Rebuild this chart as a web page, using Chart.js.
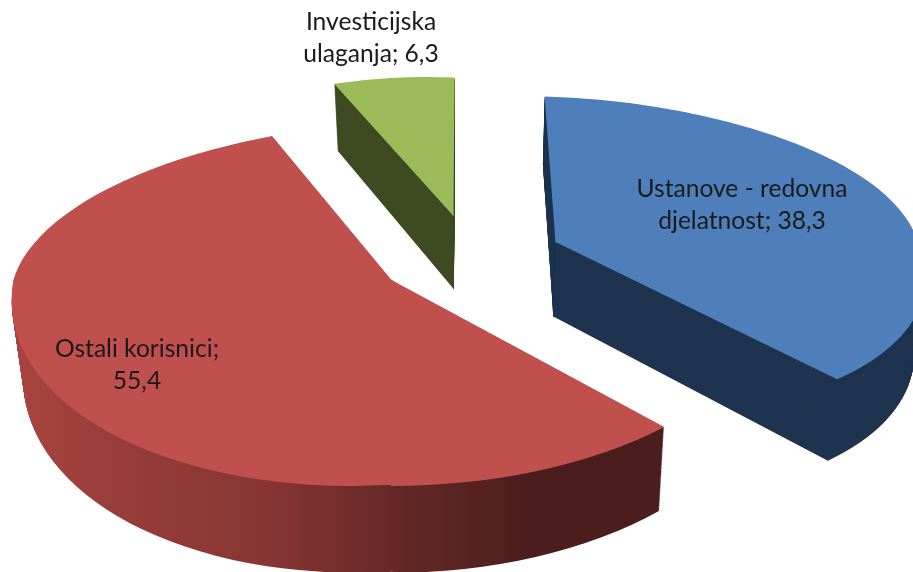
<!DOCTYPE html>
<html><head><meta charset="utf-8">
<style>html,body{margin:0;padding:0;background:#fff}canvas{display:block}</style>
<script src="https://cdn.jsdelivr.net/npm/chart.js@4"></script>
</head><body><canvas id="c" width="913" height="572"></canvas>
<script>
const categories = ['Ustanove - redovna djelatnost', 'Ostali korisnici', 'Investicijska ulaganja'];
const shares = [38.3, 55.4, 6.3];
const topColors = ['#4f7fba', '#bf504d', '#9bbb59'];
const wallColors = ['#1f344f', null, '#3f4c23'];
const redWallStops = [[13,'#a8443f'],[130,'#963c39'],[270,'#873533'],[400,'#642826'],[530,'#4b1d1c'],[663,'#4b1d1c']];

/* 3-D look: how each slice is exploded and flattened (quadrants: rx, ry, shear) */
const views = [
  {ex: 86, ey: -18, turn: 0, seam: 0,
   ul: [300,146,40], ur: [362,146,40], ll: [300,173,77], lr: [362,173,77]},
  {ex: -78, ey: 20, turn: -7, seam: 0.13,
   ul: [378,159,-45], ur: [378,159,-45], ll: [378,206,-38], lr: [389,206,0]},
  {ex: -16, ey: -44, turn: 0, seam: 0,
   ul: [299,139,28], ur: [360,139,28], ll: [299,139,28], lr: [360,139,28]}
];
const labelSpots = [
  {x: 742, y: 197, wrap: 240},
  {x: 137, y: 357, wrap: 200},
  {x: 371, y: 30, wrap: 165}
];
const labelFont = '24.6px Lato';
const labelLead = 32;
const drawOrder = [2, 0, 1];
const wallSteps = 90;

function drawSlice(ctx, arc, v, idx, t, isWall) {
  const R = arc.outerRadius;
  const big = R * 1.3, ov = 0.6;
  const seam = v.seam * R;
  const quads = [
    ['ul', -big, -big, big + ov, big + ov],
    ['ur', -ov, -big, big + ov, big + ov],
    ['ll', -big, -ov, big + ov + seam, big + ov],
    ['lr', -ov, -ov, big + ov, big + ov]
  ];
  quads.forEach(q => {
    const [rx, ry, sh] = v[q[0]];
    ctx.save();
    if (t > 0) {
      ctx.transform(1 - 0.025 * t, 0, 0, 1 + 0.05 * t, 470 * 0.025 * t, 62.5 * t);
    }
    ctx.transform(rx / R, 0, sh / R, ry / R, arc.x + v.ex, arc.y + v.ey);
    ctx.beginPath();
    ctx.rect(q[1], q[2], q[3], q[4]);
    ctx.clip();
    ctx.rotate(v.turn * Math.PI / 180);
    ctx.translate(-arc.x, -arc.y);
    let fill = topColors[idx];
    if (isWall) {
      fill = wallColors[idx];
      if (!fill) {
        const M = ctx.getTransform();
        const n = M.a * M.a + M.c * M.c;
        const x0 = redWallStops[0][0], x1 = redWallStops[redWallStops.length - 1][0];
        const g = ctx.createLinearGradient(
          (x0 - M.e) * M.a / n, (x0 - M.e) * M.c / n,
          (x1 - M.e) * M.a / n, (x1 - M.e) * M.c / n);
        redWallStops.forEach(s => g.addColorStop((s[0] - x0) / (x1 - x0), s[1]));
        fill = g;
      }
    }
    const saved = arc.options;
    arc.options = Object.assign({}, saved, {backgroundColor: fill, borderWidth: 0});
    arc.draw(ctx);
    arc.options = saved;
    ctx.restore();
  });
}

function wrapLabel(ctx, text, width) {
  const lines = [];
  let cur = '';
  text.split(' ').forEach(w => {
    const tryLine = cur ? cur + ' ' + w : w;
    if (cur && ctx.measureText(tryLine).width > width) { lines.push(cur); cur = w; }
    else cur = tryLine;
  });
  lines.push(cur);
  return lines;
}

const pie3d = {
  id: 'pie3d',
  beforeDatasetsDraw(chart) {
    const ctx = chart.ctx;
    const arcs = chart.getDatasetMeta(0).data;
    drawOrder.forEach(i => {
      for (let s = wallSteps; s >= 1; s--) drawSlice(ctx, arcs[i], views[i], i, s / wallSteps, true);
      drawSlice(ctx, arcs[i], views[i], i, 0, false);
    });
    return false;
  },
  afterDraw(chart) {
    const ctx = chart.ctx;
    ctx.save();
    ctx.font = labelFont;
    ctx.fillStyle = '#1a1a1a';
    ctx.textAlign = 'center';
    ctx.textBaseline = 'alphabetic';
    categories.forEach((name, i) => {
      const text = name + '; ' + String(shares[i]).replace('.', ',');
      wrapLabel(ctx, text, labelSpots[i].wrap).forEach((ln, k) => {
        ctx.fillText(ln, labelSpots[i].x, labelSpots[i].y + k * labelLead);
      });
    });
    ctx.restore();
  }
};

new Chart(document.getElementById('c'), {
  type: 'pie',
  data: {labels: categories, datasets: [{data: shares, backgroundColor: topColors, borderWidth: 0}]},
  options: {
    responsive: false,
    animation: false,
    rotation: 4.6,
    layout: {padding: {left: 26, bottom: 52}},
    plugins: {legend: {display: false}, tooltip: {enabled: false}}
  },
  plugins: [pie3d]
});
</script></body></html>
